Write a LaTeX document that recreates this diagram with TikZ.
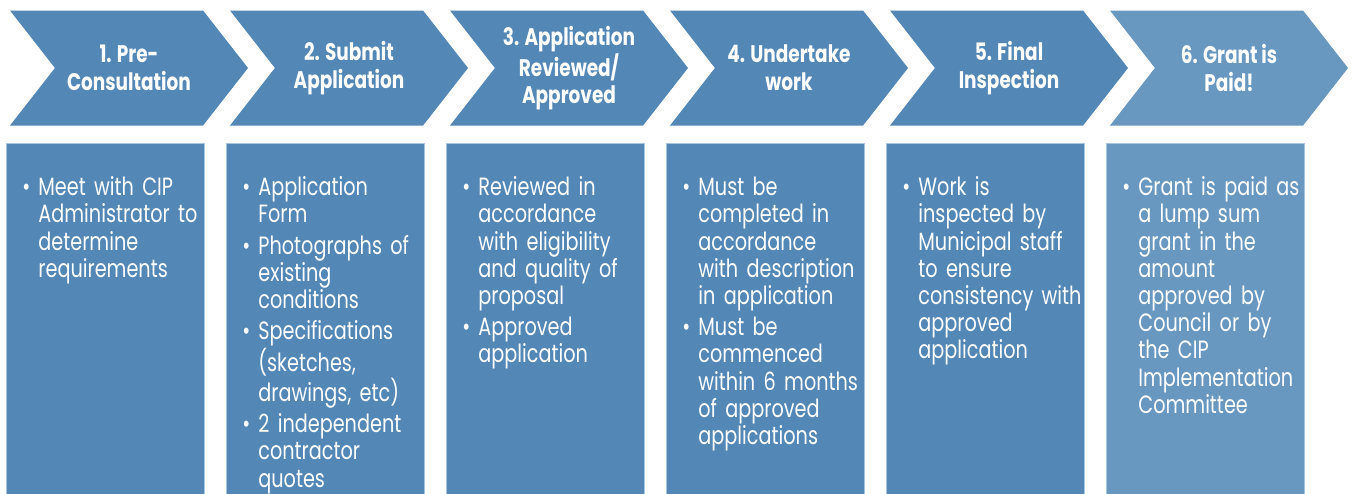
\documentclass[tikz,border=0pt]{standalone}
\usepackage{fontspec}
\setmainfont{Poppins}[FakeStretch=0.77]
\usetikzlibrary{shapes.symbols,positioning}
\definecolor{stepblue}{RGB}{83,135,181}
\definecolor{lastblue}{RGB}{104,151,192}
\definecolor{rimblue}{RGB}{168,196,222}
\newcommand{\bitem}[1]{\par\vskip 2pt\noindent\hangindent=8pt\hangafter=1\makebox[8pt][l]{\textbullet}#1\par}

\begin{document}
\begin{tikzpicture}[x=0.5pt,y=-0.5pt]
\tikzstyle{chev}=[signal,signal from=west,signal to=east,signal pointer angle=104,
fill=stepblue,draw=none,minimum width=119pt,minimum height=57.5pt,
inner sep=0pt,outer sep=0pt,node distance=110pt,text=white,align=center,
font=\bfseries\fontsize{12}{13.8}\selectfont]
\tikzstyle{infobox}=[rectangle,fill=stepblue,draw=rimblue,line width=0.5pt,
minimum width=99pt,minimum height=180.5pt,inner sep=0pt,outer sep=0pt,
node distance=127.25pt]
\tikzstyle{infotext}=[anchor=north west,text=white,text width=110pt,
inner xsep=8pt,inner ysep=0pt,yshift=-10.5pt,
font=\fontsize{12.5}{13.6}\selectfont\raggedright]
\useasboundingbox (0,0) rectangle (1353,493);

\node[chev] at (129,68) (c1) {1. Pre-\\Consultation};
\node[chev,right of =c1](c2) {2. Submit\\Application};
\node[chev,right of =c2](c3) {3. Application\\Reviewed/\\Approved};
\node[chev,right of =c3](c4) {4. Undertake\\work};
\node[chev,right of =c4](c5) {5. Final\\Inspection};
\node[chev,right of =c5,fill=lastblue](c6) {6. Grant is\\Paid!};

\node[infobox,below of =c1,xshift=-12pt,yshift=-0.5pt](b1) {};
\node[infobox,below of =c2,xshift=-12pt,yshift=-0.5pt](b2) {};
\node[infobox,below of =c3,xshift=-12pt,yshift=-0.5pt](b3) {};
\node[infobox,below of =c4,xshift=-12pt,yshift=-0.5pt](b4) {};
\node[infobox,below of =c5,xshift=-12pt,yshift=-0.5pt](b5) {};
\node[infobox,below of =c6,xshift=-12pt,yshift=-0.5pt,fill=lastblue](b6) {};

\node[infotext] at (b1.north west)(t1) {\bitem{Meet with CIP\newline Administrator to\newline determine\newline requirements}};
\node[infotext] at (b2.north west)(t2) {\bitem{Application\newline Form}
\bitem{Photographs of\newline existing\newline conditions}
\bitem{Specifications\newline (sketches,\newline drawings, etc)}
\bitem{2 independent\newline contractor\newline quotes}};
\node[infotext] at (b3.north west)(t3) {\bitem{Reviewed in\newline accordance\newline with eligibility\newline and quality of\newline proposal}
\bitem{Approved\newline application}};
\node[infotext] at (b4.north west)(t4) {\bitem{Must be\newline completed in\newline accordance\newline with description\newline in application}
\bitem{Must be\newline commenced\newline within 6 months\newline of approved\newline applications}};
\node[infotext] at (b5.north west)(t5) {\bitem{Work is\newline inspected by\newline Municipal staff\newline to ensure\newline consistency with\newline approved\newline application}};
\node[infotext] at (b6.north west)(t6) {\bitem{Grant is paid as\newline a lump sum\newline grant in the\newline amount\newline approved by\newline Council or by\newline the CIP\newline Implementation\newline Committee}};

\end{tikzpicture}
\end{document}
